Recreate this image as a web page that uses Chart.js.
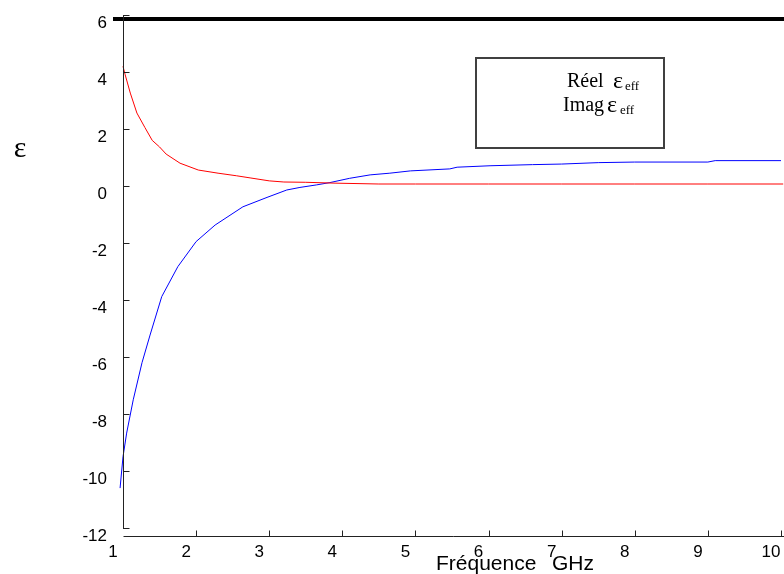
<!DOCTYPE html>
<html>
<head>
<meta charset="utf-8">
<script src="https://cdn.jsdelivr.net/npm/chart.js@4/dist/chart.umd.min.js"></script>
<style>
  html, body { margin: 0; padding: 0; background: #fff; }
  #wrap { width: 784px; height: 574px; position: relative; }
</style>
</head>
<body>
<div id="wrap"><canvas id="c" width="784" height="574"></canvas></div>
<script>
// ---- data ----
const xTicks = [1, 2, 3, 4, 5, 6, 7, 8, 9, 10];
const yTicks = [6, 4, 2, 0, -2, -4, -6, -8, -10, -12];

const redX = [1.0, 1.03, 1.1, 1.19, 1.3, 1.4, 1.5, 1.59, 1.78, 2.03, 2.3, 2.55, 2.75, 3.0, 3.2, 3.5, 3.9, 4.5, 5.0, 6.0, 7.0, 8.0, 9.0, 10.03];
const redY = [4.2, 3.9, 3.26, 2.56, 2.05, 1.6, 1.37, 1.12, 0.8, 0.56, 0.45, 0.36, 0.28, 0.18, 0.14, 0.13, 0.1, 0.07, 0.07, 0.07, 0.07, 0.07, 0.07, 0.07];

const blueX = [0.96, 1.0, 1.05, 1.14, 1.26, 1.37, 1.53, 1.75, 2.0, 2.26, 2.64, 2.97, 3.24, 3.42, 3.65, 3.83, 4.1, 4.38, 4.65, 4.93, 5.47, 5.57, 6.02, 6.6, 7.0, 7.5, 8.0, 9.0, 9.1, 10.0];
const blueY = [-10.6, -9.5, -8.67, -7.5, -6.2, -5.23, -3.88, -2.83, -1.95, -1.37, -0.73, -0.4, -0.14, -0.05, 0.04, 0.12, 0.27, 0.39, 0.45, 0.53, 0.6, 0.66, 0.71, 0.75, 0.77, 0.82, 0.84, 0.84, 0.89, 0.89];

const legendLabels = ["Réel", "Imag"];
const xTitleWords = ["Fréquence", "GHz"];
const yTitle = "ε";

function pts(xs, ys) { return xs.map((x, i) => ({ x: x, y: ys[i] })); }

const framePlugin = {
  id: 'frame',
  afterDraw(chart) {
    const ctx = chart.ctx;
    const ca = chart.chartArea;
    const xs = chart.scales.x, ys = chart.scales.y;
    ctx.save();
    // thick top line
    ctx.strokeStyle = '#000';
    ctx.lineWidth = 4;
    ctx.beginPath();
    ctx.moveTo(113, ca.top + 4);
    ctx.lineTo(chart.width, ca.top + 4);
    ctx.stroke();
    // y axis line
    ctx.lineWidth = 1;
    ctx.strokeStyle = '#222';
    const ax = Math.round(ca.left) + 0.5;
    ctx.beginPath();
    ctx.moveTo(ax, ca.top);
    ctx.lineTo(ax, ca.bottom + 1);
    ctx.stroke();
    // y ticks (inward)
    yTicks.forEach(v => {
      const py = Math.round(ys.getPixelForValue(v)) + 0.5;
      ctx.beginPath();
      ctx.moveTo(ax, py);
      ctx.lineTo(ax + 6, py);
      ctx.stroke();
    });
    // x axis line, below plot area
    const ay = Math.round(ca.bottom + 8) + 0.5;
    ctx.beginPath();
    ctx.moveTo(ax, ay);
    ctx.lineTo(chart.width, ay);
    ctx.stroke();
    xTicks.slice(1).forEach(v => {
      const px = Math.round(xs.getPixelForValue(v)) + 0.5;
      ctx.beginPath();
      ctx.moveTo(px, ay);
      ctx.lineTo(px, ay - 6);
      ctx.stroke();
    });
    // x title
    ctx.fillStyle = '#000';
    ctx.font = '21px "Liberation Sans", Arial, sans-serif';
    ctx.textBaseline = 'alphabetic';
    ctx.textAlign = 'left';
    ctx.fillText(xTitleWords[0], 436, 570);
    ctx.fillText(xTitleWords[1], 552, 570);
    // y title
    ctx.font = '30px "Liberation Serif", "Times New Roman", serif';
    ctx.textAlign = 'center';
    ctx.fillText(yTitle, 20, 157);
    // legend box
    ctx.strokeStyle = '#404040';
    ctx.lineWidth = 2;
    ctx.strokeRect(476, 58, 188, 90);
    // legend texts
    ctx.textAlign = 'left';
    ctx.font = '20px "Liberation Serif", "Times New Roman", serif';
    ctx.fillText(legendLabels[0], 567, 87);
    ctx.fillText(legendLabels[1], 563, 111);
    ctx.font = '24px "Liberation Serif", "Times New Roman", serif';
    ctx.fillText('ε', 613, 88);
    ctx.fillText('ε', 607, 112);
    ctx.font = '13px "Liberation Serif", "Times New Roman", serif';
    ctx.fillText('eff', 625, 90);
    ctx.fillText('eff', 620, 114);
    ctx.restore();
  }
};

new Chart(document.getElementById('c'), {
  type: 'scatter',
  data: {
    datasets: [
      { label: 'Réel εeff', data: pts(redX, redY), showLine: true, borderColor: '#ff0000', borderWidth: 1, pointRadius: 0, tension: 0, clip: false },
      { label: 'Imag εeff', data: pts(blueX, blueY), showLine: true, borderColor: '#0000ff', borderWidth: 1, pointRadius: 0, tension: 0, clip: false }
    ]
  },
  options: {
    responsive: false,
    animation: false,
    layout: { padding: { left: 0, right: 3, top: 15, bottom: 0 } },
    plugins: { legend: { display: false }, tooltip: { enabled: false } },
    scales: {
      x: {
        type: 'linear', min: 1, max: 10,
        afterFit(s) { s.height = 46; s.paddingLeft = 0; s.paddingRight = 0; },
        afterBuildTicks(s) { s.ticks = xTicks.map(v => ({ value: v })); },
        grid: { display: false, drawTicks: false },
        border: { display: false },
        ticks: { color: '#000', font: { size: 17, family: '"Liberation Sans", Arial, sans-serif' }, padding: 14, labelOffset: -10, maxRotation: 0, autoSkip: false }
      },
      y: {
        type: 'linear', min: -12, max: 6,
        afterFit(s) { s.width = 123; s.paddingTop = 0; s.paddingBottom = 0; },
        afterBuildTicks(s) { s.ticks = yTicks.map(v => ({ value: v })); },
        grid: { display: false, drawTicks: false },
        border: { display: false },
        ticks: { color: '#000', font: { size: 17, family: '"Liberation Sans", Arial, sans-serif' }, padding: 16, labelOffset: 8, autoSkip: false }
      }
    }
  },
  plugins: [framePlugin]
});
</script>
</body>
</html>
